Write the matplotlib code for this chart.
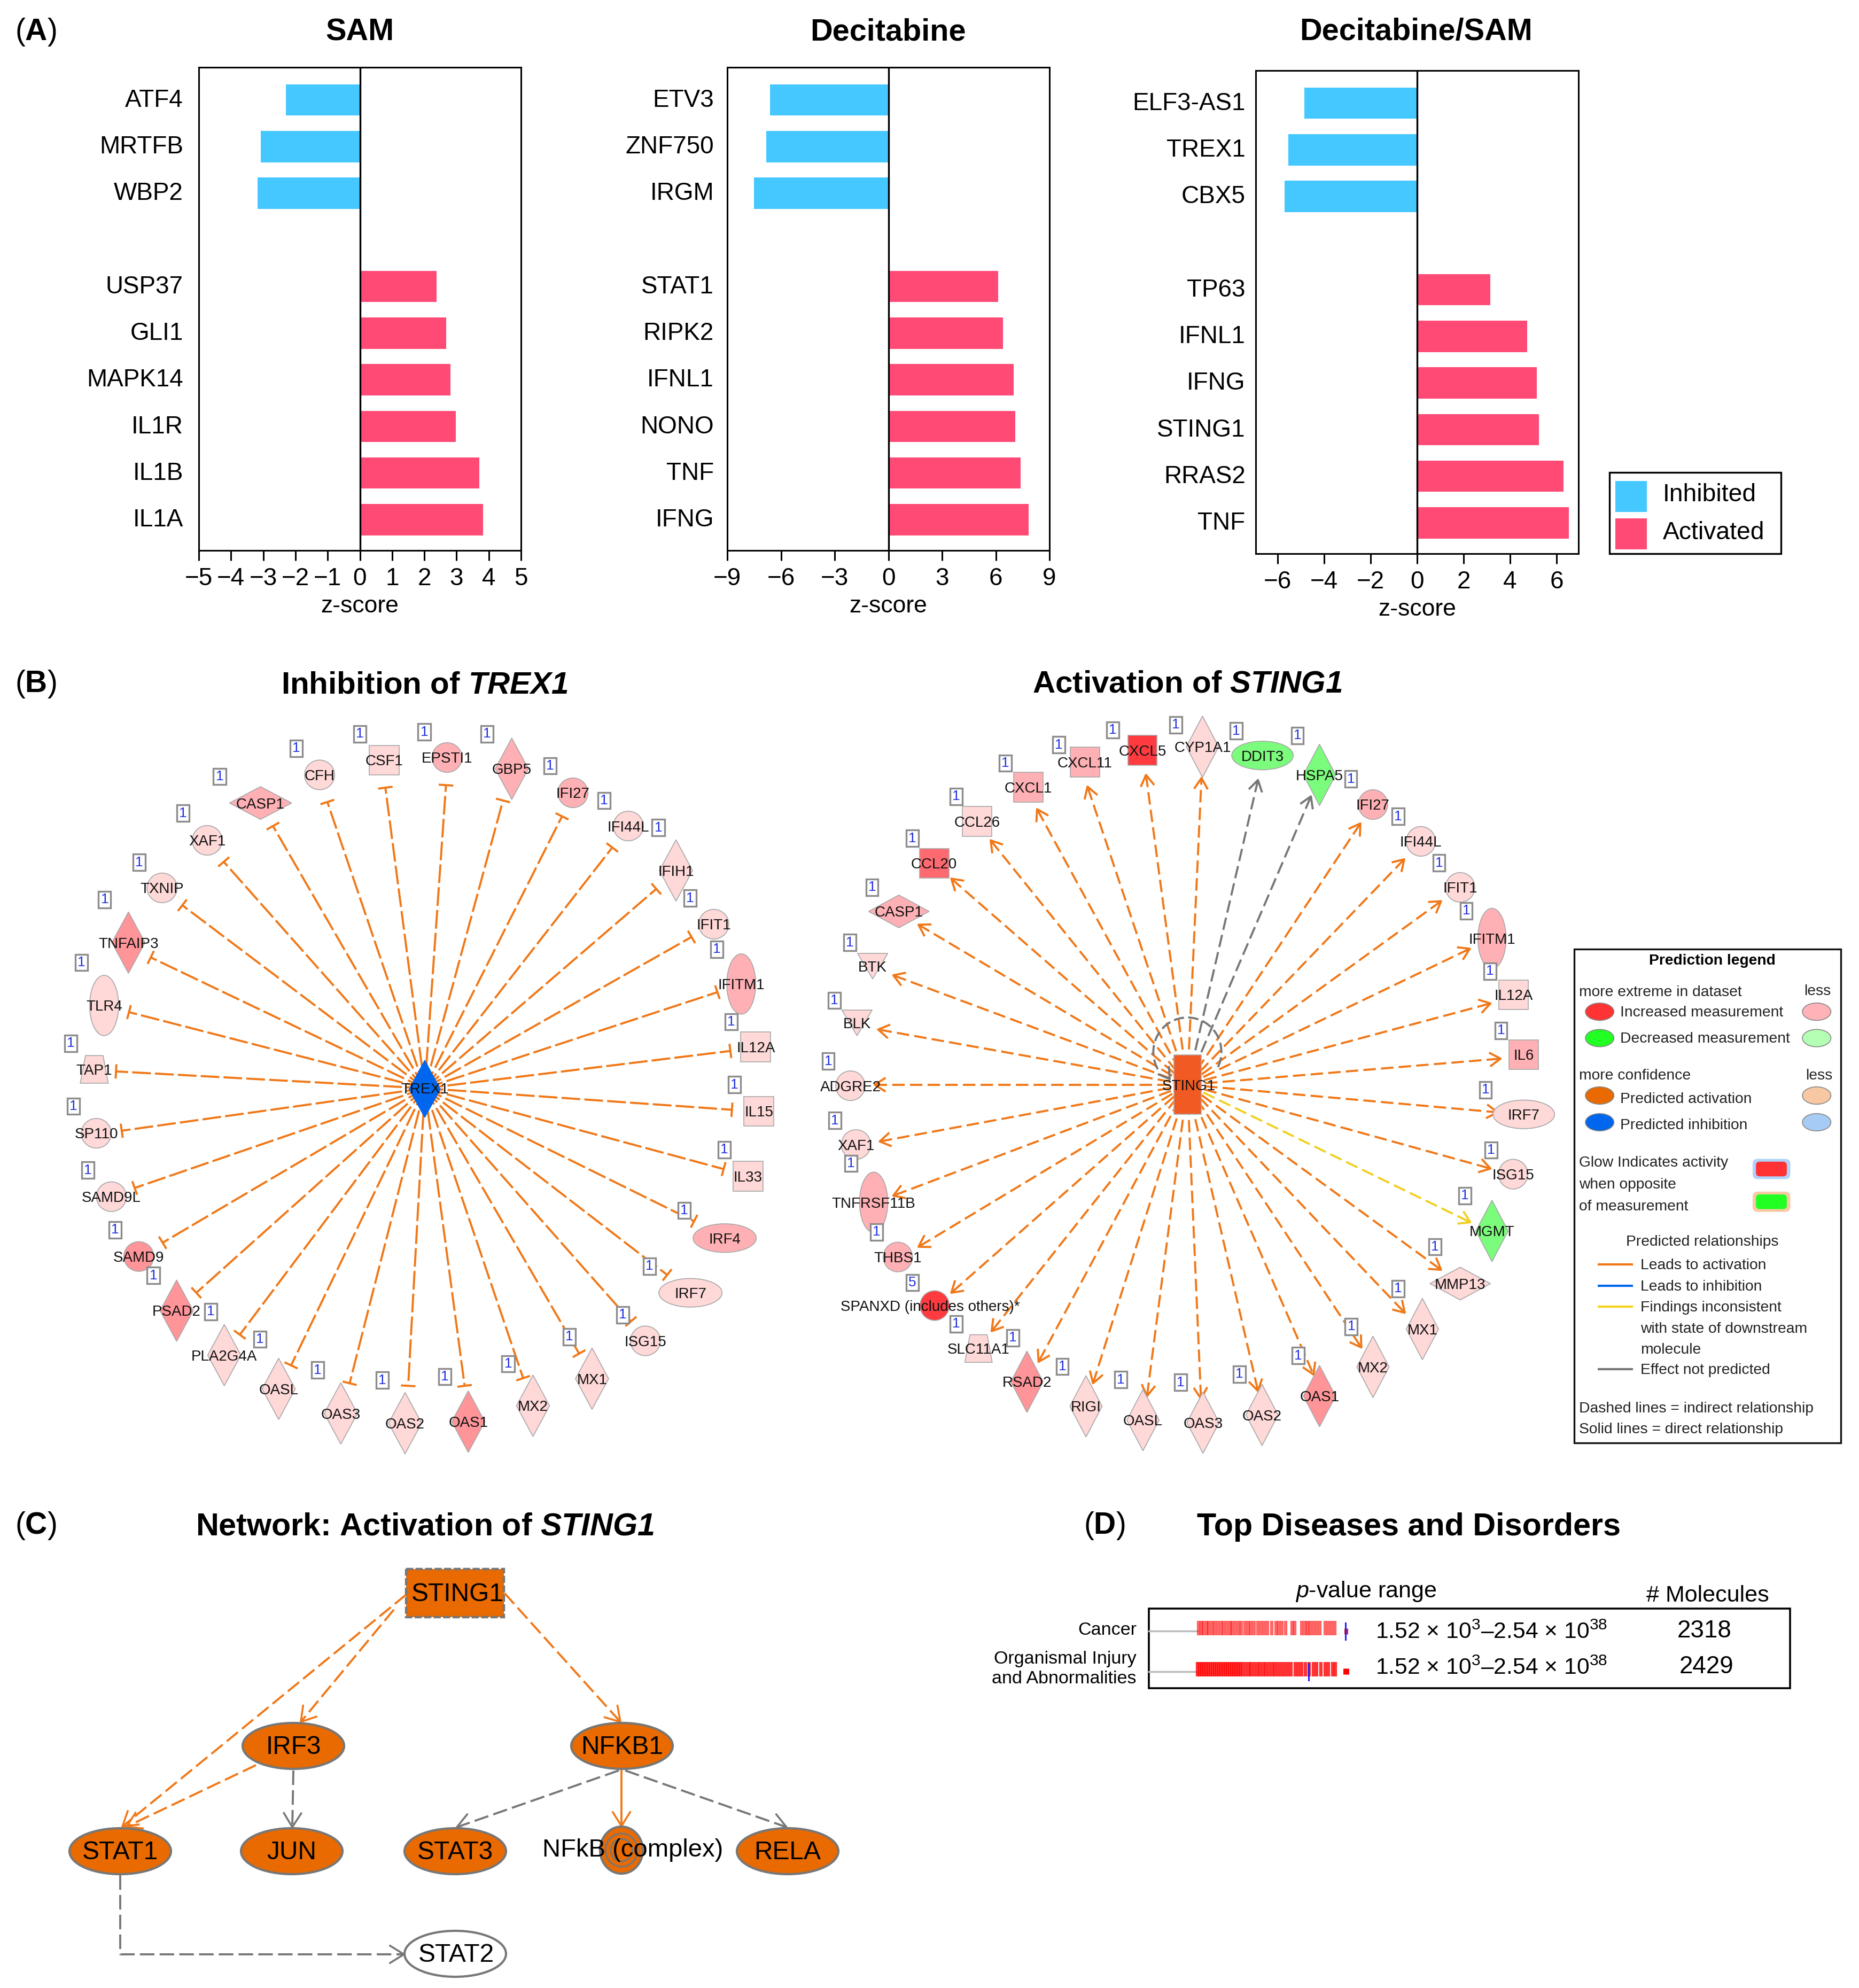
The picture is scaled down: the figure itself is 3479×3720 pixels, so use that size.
import numpy as np
import matplotlib
matplotlib.use("Agg")
import matplotlib.pyplot as plt
from matplotlib.patches import Arc, Ellipse, Polygon, Rectangle, FancyBboxPatch
from matplotlib.transforms import ScaledTranslation

plt.rcParams["font.family"] = "Liberation Sans"
plt.rcParams["mathtext.fontset"] = "custom"
plt.rcParams["mathtext.rm"] = "Liberation Sans"
plt.rcParams["mathtext.it"] = "Liberation Sans:italic"
plt.rcParams["mathtext.bf"] = "Liberation Sans:bold"
plt.rcParams["mathtext.bfit"] = "Liberation Sans:italic:bold"

W, H = 3480, 3720

# panel A
sam_genes = ["ATF4", "MRTFB", "WBP2", "", "USP37", "GLI1", "MAPK14", "IL1R", "IL1B", "IL1A"]
sam_z = [-2.29, -3.07, -3.17, 0, 2.38, 2.68, 2.81, 2.97, 3.71, 3.82]
dec_genes = ["ETV3", "ZNF750", "IRGM", "", "STAT1", "RIPK2", "IFNL1", "NONO", "TNF", "IFNG"]
dec_z = [-6.6, -6.83, -7.5, 0, 6.12, 6.4, 7.0, 7.08, 7.4, 7.83]
combo_genes = ["ELF3-AS1", "TREX1", "CBX5", "", "TP63", "IFNL1", "IFNG", "STING1", "RRAS2", "TNF"]
combo_z = [-4.85, -5.54, -5.71, 0, 3.15, 4.74, 5.15, 5.25, 6.29, 6.52]

BLUE = "#45C8FF"
PINK = "#FF4A75"
LIGHT = "#FFD8D8"
MID = "#FFB0B4"
DARK = "#FF9499"
STRONG = "#FF6A70"
RED = "#FF3B40"
GREEN = "#7CFC7C"
ORANGE = "#F07818"
NODE_ORANGE = "#E86A00"
GREY = "#777777"
YELLOW = "#F0D020"

# panel B, network layout:
# name, x, y, shape, fill, badge x, badge y, line end x, line end y
trex_nodes = [
    ("CSF1", 742, 201, "s", LIGHT, 695, 150, 744, 255),
    ("EPSTI1", 863, 196, "c", MID, 819, 146, 861, 250),
    ("GBP5", 988, 218, "d", MID, 940, 150, 971, 280),
    ("IFI27", 1106, 265, "c", MID, 1062, 212, 1085, 311),
    ("IFI44L", 1213, 330, "c", LIGHT, 1166, 280, 1182, 372),
    ("IFIH1", 1305, 417, "d", LIGHT, 1271, 333, 1267, 453),
    ("IFIT1", 1378, 522, "c", LIGHT, 1332, 471, 1335, 547),
    ("IFITM1", 1431, 639, "v", MID, 1384, 571, 1385, 655),
    ("IL12A", 1459, 762, "s", LIGHT, 1412, 713, 1410, 770),
    ("IL15", 1465, 888, "s", LIGHT, 1418, 836, 1413, 885),
    ("IL33", 1444, 1015, "s", LIGHT, 1398, 963, 1397, 1001),
    ("IRF4", 1399, 1136, "h", MID, 1321, 1082, 1340, 1103),
    ("IRF7", 1333, 1243, "h", LIGHT, 1254, 1191, 1288, 1208),
    ("ISG15", 1246, 1337, "c", LIGHT, 1202, 1286, 1218, 1299),
    ("MX1", 1143, 1411, "d", LIGHT, 1099, 1329, 1118, 1362),
    ("MX2", 1029, 1464, "d", LIGHT, 981, 1382, 1010, 1410),
    ("OAS1", 904, 1495, "d", DARK, 859, 1407, 897, 1425),
    ("OAS2", 782, 1498, "d", LIGHT, 738, 1414, 788, 1425),
    ("OAS3", 658, 1479, "d", LIGHT, 613, 1394, 675, 1420),
    ("OASL", 538, 1431, "d", LIGHT, 502, 1334, 562, 1385),
    ("PLA2G4A", 433, 1365, "d", LIGHT, 407, 1280, 463, 1325),
    ("PSAD2", 341, 1278, "d", DARK, 296, 1209, 379, 1243),
    ("SAMD9", 268, 1172, "c", DARK, 222, 1120, 314, 1145),
    ("SAMD9L", 215, 1055, "c", LIGHT, 170, 1003, 260, 1038),
    ("SP110", 186, 931, "c", LIGHT, 142, 878, 235, 926),
    ("TAP1", 182, 806, "t", LIGHT, 137, 755, 224, 810),
    ("TLR4", 201, 681, "v", LIGHT, 157, 597, 249, 694),
    ("TNFAIP3", 248, 558, "d", DARK, 202, 474, 291, 587),
    ("TXNIP", 313, 451, "c", LIGHT, 269, 401, 352, 485),
    ("XAF1", 400, 358, "c", LIGHT, 353, 305, 432, 400),
    ("CASP1", 503, 285, "w", MID, 424, 233, 527, 330),
    ("CFH", 617, 230, "c", LIGHT, 572, 178, 632, 283),
]

sting_nodes = [
    ("CXCL5", 676, 182, "s", RED, 617, 142, 683, 230),
    ("CYP1A1", 795, 175, "d", LIGHT, 742, 132, 793, 236),
    ("DDIT3", 914, 192, "h", GREEN, 862, 144, 905, 240),
    ("HSPA5", 1027, 230, "d", GREEN, 983, 153, 1010, 272),
    ("IFI27", 1133, 288, "c", MID, 1089, 238, 1108, 325),
    ("IFI44L", 1228, 360, "c", LIGHT, 1183, 311, 1195, 395),
    ("IFIT1", 1306, 450, "c", LIGHT, 1264, 402, 1268, 477),
    ("IFITM1", 1369, 550, "v", MID, 1318, 496, 1325, 570),
    ("IL12A", 1412, 660, "s", LIGHT, 1365, 614, 1366, 677),
    ("IL6", 1432, 777, "s", MID, 1387, 730, 1386, 785),
    ("IRF7", 1432, 894, "h", LIGHT, 1356, 846, 1380, 890),
    ("ISG15", 1411, 1011, "c", LIGHT, 1367, 964, 1366, 1000),
    ("MGMT", 1369, 1122, "d", GREEN, 1315, 1053, 1326, 1105),
    ("MMP13", 1306, 1225, "w", LIGHT, 1256, 1153, 1268, 1198),
    ("MX1", 1231, 1314, "d", LIGHT, 1183, 1235, 1196, 1282),
    ("MX2", 1133, 1388, "d", LIGHT, 1090, 1309, 1110, 1350),
    ("OAS1", 1027, 1445, "d", DARK, 985, 1366, 1015, 1403),
    ("OAS2", 913, 1482, "d", LIGHT, 868, 1402, 905, 1435),
    ("OAS3", 796, 1497, "d", LIGHT, 752, 1418, 792, 1450),
    ("OASL", 677, 1492, "d", LIGHT, 633, 1413, 685, 1445),
    ("RIGI", 564, 1465, "d", LIGHT, 517, 1387, 578, 1420),
    ("RSAD2", 447, 1417, "d", DARK, 419, 1331, 470, 1378),
    ("SLC11A1", 351, 1352, "t", LIGHT, 307, 1304, 377, 1318),
    ("SPANXD (includes others)*", 264, 1268, "c", RED, 220, 1223, 297, 1243),
    ("THBS1", 191, 1173, "c", MID, 149, 1124, 232, 1153),
    ("TNFRSF11B", 143, 1066, "v", MID, 98, 990, 182, 1053),
    ("XAF1", 108, 953, "c", LIGHT, 66, 906, 155, 947),
    ("ADGRE2", 97, 838, "c", LIGHT, 53, 790, 145, 836),
    ("BLK", 110, 715, "i", LIGHT, 65, 671, 152, 728),
    ("BTK", 141, 604, "i", LIGHT, 96, 558, 182, 622),
    ("CASP1", 193, 497, "w", MID, 140, 450, 232, 523),
    ("CCL20", 263, 403, "s", STRONG, 220, 354, 297, 433),
    ("CCL26", 348, 321, "s", LIGHT, 307, 272, 375, 358),
    ("CXCL1", 450, 254, "s", MID, 404, 207, 467, 297),
    ("CXCL11", 562, 205, "s", MID, 510, 171, 567, 253),
]
# badges that read something else than 1, and edges that are not orange
badge_text = {"SPANXD (includes others)*": "5"}
edge_colour = {"DDIT3": GREY, "HSPA5": GREY, "MGMT": YELLOW}
label_shift = {"SPANXD (includes others)*": -9}

# panel C: name, x, y, width, height
network_nodes = [
    ("IRF3", 549, 3267, 190, 86),
    ("NFKB1", 1164, 3267, 190, 86),
    ("STAT1", 225, 3464, 190, 86),
    ("JUN", 546, 3464, 190, 86),
    ("STAT3", 852, 3464, 190, 86),
    ("RELA", 1474, 3464, 190, 86),
]
# x0, y0, x1, y1, colour, dashed
network_edges = [
    (760, 2984, 229, 3418, ORANGE, True),
    (737, 3012, 563, 3222, ORANGE, True),
    (479, 3303, 237, 3418, ORANGE, True),
    (944, 2981, 1161, 3222, ORANGE, True),
    (1163, 3311, 1163, 3417, ORANGE, False),
    (549, 3313, 547, 3419, GREY, True),
    (1158, 3313, 855, 3419, GREY, True),
    (1170, 3313, 1472, 3419, GREY, True),
]

# panel D
disease_names = ["Cancer", "Organismal Injury\nand Abnormalities"]
disease_ranges = [r"1.52 × 10$^{3}$–2.54 × 10$^{38}$", r"1.52 × 10$^{3}$–2.54 × 10$^{38}$"]
disease_counts = ["2318", "2429"]
cancer_marks = [2243, 2248, 2252, 2258, 2262, 2268, 2273, 2279, 2285, 2290, 2296, 2302, 2306, 2312,
                2318, 2323, 2330, 2336, 2341, 2347, 2354, 2360, 2366, 2372, 2380, 2388, 2393, 2399,
                2406, 2418, 2423, 2436, 2442, 2447, 2452, 2458, 2464, 2470, 2480, 2486, 2492, 2498]
cancer_far = [2519]
injury_marks = [2241, 2245, 2249, 2253, 2257, 2261, 2265, 2269, 2273, 2277, 2281, 2285, 2289, 2293,
                2297, 2301, 2305, 2309, 2313, 2317, 2321, 2325, 2331, 2337, 2341, 2347, 2353, 2358,
                2364, 2369, 2375, 2381, 2386, 2392, 2398, 2404, 2410, 2416, 2424, 2430, 2436, 2443,
                2450, 2458, 2464, 2472, 2480, 2486, 2494, 2499]
injury_far = [2517, 2521]

# prediction legend text: x, y, text in crop coordinates
legend_left_texts = [
    (103, 168, "more extreme in dataset"),
    (325, 229, "Increased measurement"),
    (325, 308, "Decreased measurement"),
    (103, 418, "more confidence"),
    (325, 488, "Predicted activation"),
    (325, 566, "Predicted inhibition"),
    (103, 678, "Glow Indicates activity"),
    (103, 744, "when opposite"),
    (103, 810, "of measurement"),
    (437, 986, "Leads to activation"),
    (437, 1049, "Leads to inhibition"),
    (437, 1112, "Findings inconsistent"),
    (437, 1176, "with state of downstream"),
    (437, 1238, "molecule"),
    (437, 1299, "Effect not predicted"),
    (103, 1415, "Dashed lines = indirect relationship"),
    (103, 1477, "Solid lines = direct relationship"),
]


def crop_axes(fig, x, y, w, h):
    # axes over a pixel box of the page, with 0-1568 units both ways
    ax = fig.add_axes([x / W, 1 - (y + h) / H, w / W, h / H])
    ax.set_xlim(0, 1568)
    ax.set_ylim(1568, 0)
    ax.axis("off")
    ax.patch.set_alpha(0)
    return ax


def bar_panel(fig, box, genes, z, xlim, xticks, pad):
    x0, y0, x1, y1 = box
    ax = fig.add_axes([x0 / W, 1 - y1 / H, (x1 - x0) / W, (y1 - y0) / H])
    rows = np.arange(len(genes))
    colours = [BLUE if v < 0 else PINK for v in z]
    ax.barh(rows, z, height=0.67, color=colours)
    ax.axvline(0, color="black", lw=2.4)
    ax.set_xlim(*xlim)
    ax.set_ylim(9.66, -0.7)
    ax.set_xticks(xticks)
    ax.set_yticks(rows)
    ax.set_yticklabels(genes)
    ax.tick_params(axis="y", length=0, pad=pad, labelsize=33)
    ax.tick_params(axis="x", length=14, width=2.2, pad=8, labelsize=33)
    ax.set_xlabel("z-score", fontsize=32, labelpad=7)
    # gene names sit a little above the middle of their bars
    up = ScaledTranslation(0, 3 / 72, fig.dpi_scale_trans)
    for label in ax.get_yticklabels():
        label.set_transform(label.get_transform() + up)
    for s in ax.spines.values():
        s.set_linewidth(2.2)
    return ax


def draw_node(ax, x, y, shape, fill, edge="#A8A8A8", lw=1.2):
    kw = dict(facecolor=fill, edgecolor=edge, linewidth=lw, zorder=3)
    if shape == "c":
        ax.add_patch(Ellipse((x, y), 58, 58, **kw))
    elif shape == "v":
        ax.add_patch(Ellipse((x, y), 56, 118, **kw))
    elif shape == "h":
        ax.add_patch(Ellipse((x, y), 122, 56, **kw))
    elif shape == "s":
        ax.add_patch(Rectangle((x - 29, y - 29), 58, 58, **kw))
    elif shape == "d":
        ax.add_patch(Polygon([(x, y - 60), (x + 32, y), (x, y + 60), (x - 32, y)], **kw))
    elif shape == "w":
        ax.add_patch(Polygon([(x, y - 32), (x + 60, y), (x, y + 32), (x - 60, y)], **kw))
    elif shape == "t":
        ax.add_patch(Polygon([(x - 17, y - 27), (x + 17, y - 27), (x + 27, y + 27), (x - 27, y + 27)], **kw))
    elif shape == "i":
        ax.add_patch(Polygon([(x - 30, y - 25), (x + 30, y - 25), (x, y + 25)], **kw))


def line_end(ax, x0, y0, x1, y1, colour, kind, size=20, lw=2.8):
    d = np.array([x1 - x0, y1 - y0], dtype=float)
    d = d / np.hypot(*d)
    n = np.array([-d[1], d[0]])
    tip = np.array([x1, y1], dtype=float)
    if kind == "T":
        a, b = tip - n * 12, tip + n * 12
        ax.plot([a[0], b[0]], [a[1], b[1]], color=colour, lw=lw, zorder=2)
    else:
        a = tip - d * size + n * size * 0.62
        b = tip - d * size - n * size * 0.62
        ax.plot([a[0], tip[0], b[0]], [a[1], tip[1], b[1]], color=colour, lw=lw, zorder=2)


def badge(ax, x, y, text="1"):
    ax.add_patch(Rectangle((x - 12, y - 16), 24, 32, facecolor="white", edgecolor="#8C8C8C", linewidth=2.4, zorder=5))
    ax.text(x, y, text, color="#2030E0", fontsize=19, ha="center", va="center", zorder=6)


def radial_network(ax, nodes, cx, cy, kind, dashes):
    for name, x, y, shape, fill, bx, by, ex, ey in nodes:
        c = edge_colour.get(name, ORANGE)
        ax.plot([cx, ex], [cy, ey], color=c, lw=2.8, linestyle=(0, dashes), zorder=1)
        line_end(ax, cx, cy, ex, ey, c, kind)
        draw_node(ax, x, y, shape, fill)
        ax.text(x + label_shift.get(name, 0), y + 3, name, fontsize=20, ha="center", va="center", color="#111111", zorder=4)
        badge(ax, bx, by, badge_text.get(name, "1"))


def prediction_legend(fig):
    ax = crop_axes(fig, 2920, 1750, 540, 980)
    ax.add_patch(Rectangle((75, 42), 1450, 1478, facecolor="white", edgecolor="#111111", linewidth=2.4))
    ax.text(825, 77, "Prediction legend", fontsize=20.3, fontweight="bold", ha="center", va="center")
    for x, y, t in legend_left_texts:
        ax.text(x, y + 3, t, fontsize=20.3, ha="left", va="center", color="#222222")
    ax.text(1398, 168, "less", fontsize=20.3, ha="center", va="center", color="#222222")
    ax.text(1405, 420, "less", fontsize=20.3, ha="center", va="center", color="#222222")
    ax.text(772, 919, "Predicted relationships", fontsize=20.3, ha="center", va="center", color="#222222")
    rows = [(229, "#FF3333", "#FFB3B8"), (308, "#22FF22", "#B3FFB3"),
            (480, NODE_ORANGE, "#F7C8A3"), (560, "#0066EE", "#A6CBF5")]
    for y, strong, weak in rows:
        ax.add_patch(Ellipse((214, y), 155, 52, facecolor=strong, edgecolor="#888888", linewidth=1.2))
        ax.add_patch(Ellipse((1393, y), 155, 52, facecolor=weak, edgecolor="#888888", linewidth=1.2))
    # the crop is stretched sideways, mutation_aspect keeps the corners round
    for y, glow, inner in [(700, "#AFD3FB", "#FF3333"), (798, "#F8CBA6", "#22FF22")]:
        ax.add_patch(FancyBboxPatch((1073, y - 15), 149, 30, boxstyle="round,pad=28", mutation_aspect=0.55,
                                    facecolor=glow, edgecolor="none"))
        ax.add_patch(FancyBboxPatch((1083, y - 11), 128, 22, boxstyle="round,pad=20", mutation_aspect=0.55,
                                    facecolor=inner, edgecolor="none"))
    for y, c in [(986, ORANGE), (1049, "#0066EE"), (1112, "#F5D21E"), (1299, GREY)]:
        ax.plot([203, 395], [y, y], color=c, lw=3, solid_capstyle="butt")


def panel_c(page):
    for x0, y0, x1, y1, c, dashed in network_edges:
        ls = (0, (7, 2.5)) if dashed else "-"
        page.plot([x0, x1], [y0, y1], color=c, lw=2.8, linestyle=ls, zorder=1)
        line_end(page, x0, y0, x1, y1, c, "arrow", size=26, lw=2.6)
    # STAT1 to STAT2 goes round a corner
    page.plot([225, 225, 756], [3509, 3657, 3657], color=GREY, lw=2.8, linestyle=(0, (7, 2.5)), zorder=1)
    line_end(page, 225, 3657, 756, 3657, GREY, "arrow", size=26, lw=2.6)

    page.add_patch(Rectangle((760, 2936), 183, 90, facecolor=NODE_ORANGE, edgecolor=GREY, linewidth=3.2, linestyle=(0, (3, 1)), zorder=3))
    page.text(856, 2983, "STING1", fontsize=34.5, ha="center", va="center", zorder=4)
    for name, x, y, w, h in network_nodes:
        page.add_patch(Ellipse((x, y), w, h, facecolor=NODE_ORANGE, edgecolor=GREY, linewidth=3, zorder=3))
        page.text(x, y + 2, name, fontsize=34.5, ha="center", va="center", zorder=4)
    page.add_patch(Ellipse((852, 3656), 190, 86, facecolor="white", edgecolor=GREY, linewidth=3, zorder=3))
    page.text(854, 3658, "STAT2", fontsize=34.5, ha="center", va="center", zorder=4)
    # the complex: three rings
    page.add_patch(Ellipse((1163, 3462), 80, 88, facecolor=NODE_ORANGE, edgecolor=GREY, linewidth=3, zorder=3))
    page.add_patch(Ellipse((1163, 3462), 60, 62, facecolor="none", edgecolor=GREY, linewidth=2.2, zorder=3))
    page.add_patch(Ellipse((1163, 3462), 40, 42, facecolor="none", edgecolor=GREY, linewidth=2.2, zorder=3))
    page.text(1184, 3462, "NFkB (complex)", fontsize=34, ha="center", va="center", zorder=4)


def panel_d(page):
    page.add_patch(Rectangle((2150, 3010), 1200, 149, facecolor="white", edgecolor="black", linewidth=2.6, zorder=1))
    page.text(2556, 2978, r"$\mathit{p}$-value range", fontsize=31, ha="center", va="center")
    page.text(3196, 2986, "# Molecules", fontsize=31, ha="center", va="center")
    page.text(2127, 3050, disease_names[0], fontsize=24.5, ha="right", va="center", linespacing=1.25)
    page.text(2127, 3123, disease_names[1], fontsize=24.5, ha="right", va="center", linespacing=1.25)
    page.plot([2150, 2241], [3052, 3052], color="#BBBBBB", lw=2.5, zorder=2)
    page.plot([2150, 2241], [3128, 3128], color="#BBBBBB", lw=2.5, zorder=2)
    page.vlines(cancer_marks, 3033, 3060, color="#FF0000", lw=4.5, alpha=0.6, zorder=3)
    page.vlines(cancer_far, 3047, 3058, color="#E02020", lw=5, zorder=3)
    page.vlines(injury_marks, 3110, 3137, color="#FF0000", lw=4.5, alpha=0.8, zorder=3)
    page.vlines(injury_far, 3122, 3133, color="#FF0000", lw=5, zorder=3)
    page.plot([2518, 2518], [3037, 3068], color="#2020FF", lw=2.2, zorder=4)
    page.plot([2449, 2449], [3113, 3144], color="#2020FF", lw=2.2, zorder=4)
    for y, rng, count, cx in zip([3055, 3122], disease_ranges, disease_counts, [3190, 3194]):
        page.text(2574, y, rng, fontsize=30.7, ha="left", va="center", zorder=5)
        page.text(cx, y - 3, count, fontsize=33, ha="center", va="center", zorder=5)


def main():
    fig = plt.figure(figsize=(W / 100, H / 100), dpi=100, facecolor="white")

    bar_panel(fig, (372, 126, 975, 1030), sam_genes, sam_z, (-5, 5), np.arange(-5, 6), 21)
    bar_panel(fig, (1361, 126, 1964, 1030), dec_genes, dec_z, (-9, 9), np.arange(-9, 10, 3), 18)
    bar_panel(fig, (2350, 132, 2954, 1036), combo_genes, combo_z, (-6.94, 6.94), np.arange(-6, 7, 2), 14)

    left = crop_axes(fig, 0, 1230, 1520, 1500)
    radial_network(left, trex_nodes, 820, 843, "T", (9, 2))
    left.add_patch(Polygon([(820, 788), (850, 845), (820, 900), (790, 845)], facecolor="#0066EE", edgecolor="#0066EE", zorder=3))
    left.text(820, 846, "TREX1", fontsize=20, ha="center", va="center", color="#111111", zorder=4)

    right = crop_axes(fig, 1500, 1230, 1480, 1500)
    radial_network(right, sting_nodes, 765, 836, "arrow", (6, 2.5))
    right.add_patch(Arc((765, 772), 135, 135, theta1=150, theta2=30, color=GREY, lw=2.8, linestyle=(0, (5, 2)), zorder=2))
    line_end(right, 705, 790, 730, 825, GREY, "arrow")
    right.add_patch(Rectangle((738, 778), 54, 116, facecolor="#F15A22", edgecolor="#AAAAAA", linewidth=1.2, zorder=3))
    right.text(768, 839, "STING1", fontsize=20, ha="center", va="center", color="#111111", zorder=4)

    prediction_legend(fig)

    page = fig.add_axes([0, 0, 1, 1])
    page.set_xlim(0, W)
    page.set_ylim(H, 0)
    page.axis("off")
    page.patch.set_alpha(0)

    for t, x in [("SAM", 673), ("Decitabine", 1662), ("Decitabine/SAM", 2650)]:
        page.text(x, 60, t, fontsize=41.5, fontweight="bold", ha="center", va="center")
    page.text(795, 1282, r"Inhibition of $\bfit{TREX1}$", fontsize=42, fontweight="bold", ha="center", va="center")
    page.text(2222, 1280, r"Activation of $\bfit{STING1}$", fontsize=42, fontweight="bold", ha="center", va="center")
    page.text(795, 2857, r"Network: Activation of $\bfit{STING1}$", fontsize=42.7, fontweight="bold", ha="center", va="center")
    page.text(2637, 2857, "Top Diseases and Disorders", fontsize=42.7, fontweight="bold", ha="center", va="center")

    for letter, x, y in [("A", 28, 60), ("B", 28, 1280), ("C", 28, 2855), ("D", 2028, 2855)]:
        page.text(x, y, "(" + r"$\mathbf{" + letter + "}$" + ")", fontsize=41, ha="left", va="center")

    # legend of panel A
    page.add_patch(Rectangle((3012, 884), 321, 152, facecolor="white", edgecolor="black", linewidth=2.4))
    page.add_patch(Rectangle((3023, 900), 59, 58, facecolor=BLUE, edgecolor="none"))
    page.add_patch(Rectangle((3023, 970), 59, 58, facecolor=PINK, edgecolor="none"))
    page.text(3112, 926, "Inhibited", fontsize=33.3, ha="left", va="center")
    page.text(3112, 997, "Activated", fontsize=33.3, ha="left", va="center")

    panel_c(page)
    panel_d(page)

    fig.savefig("out.png", dpi=100)


if __name__ == "__main__":
    main()
